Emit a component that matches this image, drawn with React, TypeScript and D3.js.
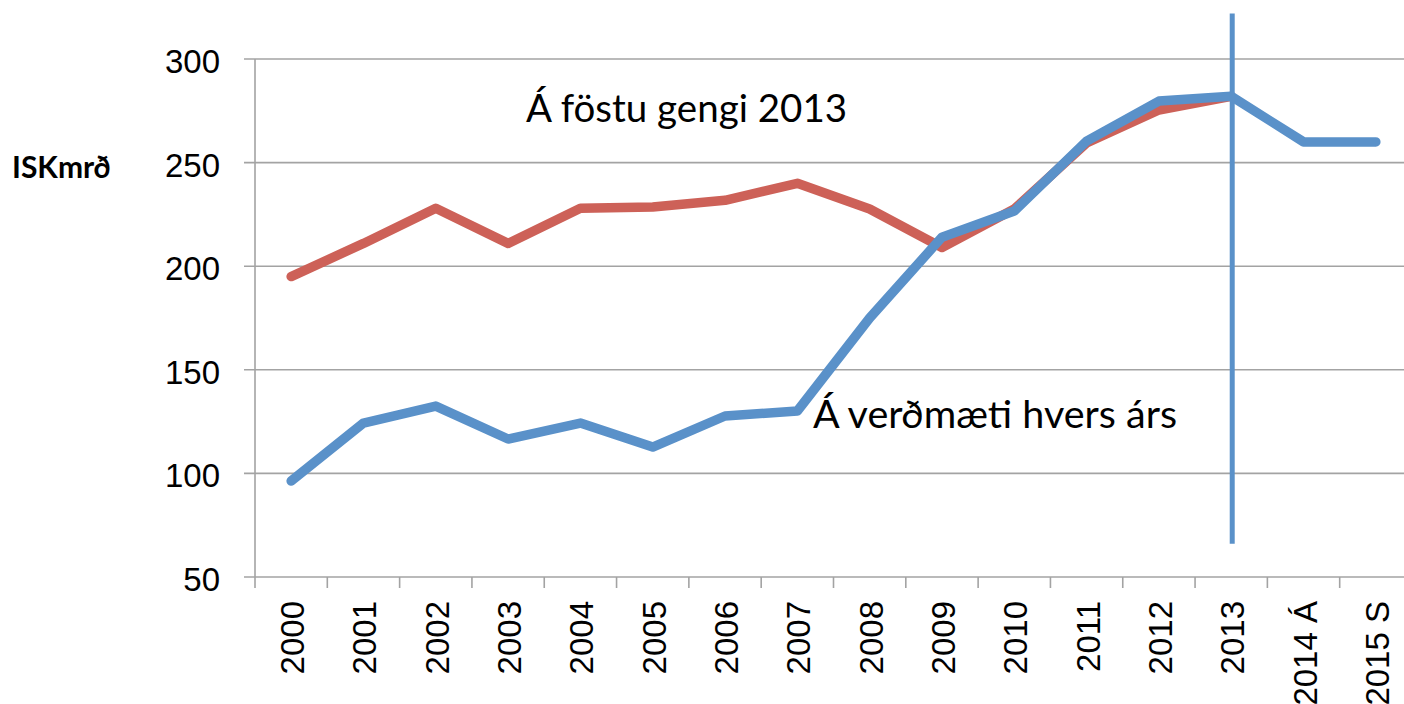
import React, { useRef, useEffect } from 'react';
import * as d3 from 'd3';

const years = ['2000', '2001', '2002', '2003', '2004', '2005', '2006', '2007', '2008', '2009', '2010', '2011', '2012', '2013', '2014 Á', '2015 S'];
// Á föstu gengi 2013 (constant 2013 prices)
const fixedPrices = [195, 211, 228, 211, 228, 228.6, 231.8, 240, 227.6, 209, 227.6, 259.5, 275.4, 282];
// Á verðmæti hvers árs (current prices)
const currentPrices = [96.3, 124.3, 132.5, 116.6, 124.3, 112.7, 127.7, 130.1, 175, 214, 226.6, 260.4, 279.7, 282, 260, 260];
const yTicks = [50, 100, 150, 200, 250, 300];
const markerYear = '2013';
const markerRange = [322, 66];

const W = 1404;
const H = 704;

export default function App() {
    const svgRef = useRef<SVGSVGElement>(null);

    useEffect(() => {
        if (!svgRef.current) return;
        const svg = d3.select(svgRef.current);
        svg.selectAll("*").remove();

        const x = d3.scaleBand().domain(years).range([255, 1412]);
        const y = d3.scaleLinear().domain([50, 300]).range([577, 59]);
        const cx = (d: string) => (x(d) ?? 0) + x.bandwidth() / 2;
        const axisFont = "Liberation Sans, Arial, sans-serif";

        // gridlines
        svg.append("g")
            .selectAll("line")
            .data(yTicks)
            .join("line")
            .attr("x1", 244)
            .attr("x2", W)
            .attr("y1", d => y(d))
            .attr("y2", d => y(d))
            .attr("stroke", "#a3a3a3")
            .attr("stroke-width", 1.6);

        // y axis line
        svg.append("line")
            .attr("x1", 255).attr("x2", 255)
            .attr("y1", y(300)).attr("y2", y(50) + 11)
            .attr("stroke", "#a3a3a3").attr("stroke-width", 1.6);

        // x ticks
        svg.append("g")
            .selectAll("line")
            .data(years.slice(1))
            .join("line")
            .attr("x1", d => x(d) ?? 0)
            .attr("x2", d => x(d) ?? 0)
            .attr("y1", y(50))
            .attr("y2", y(50) + 11)
            .attr("stroke", "#a3a3a3")
            .attr("stroke-width", 1.6);

        // y labels
        svg.append("g")
            .selectAll("text")
            .data(yTicks)
            .join("text")
            .attr("x", 220)
            .attr("y", d => y(d) + 14)
            .attr("text-anchor", "end")
            .attr("font-family", axisFont)
            .attr("font-size", 33)
            .attr("fill", "#000")
            .text(d => d);

        // x labels (rotated)
        svg.append("g")
            .selectAll("text")
            .data(years)
            .join("text")
            .attr("transform", d => `translate(${cx(d) + 13},601) rotate(-90)`)
            .attr("text-anchor", "end")
            .attr("font-family", axisFont)
            .attr("font-size", 33)
            .attr("fill", "#000")
            .text(d => d);

        const line = d3.line<number>()
            .x((d, i) => cx(years[i]))
            .y(d => y(d));

        svg.append("path")
            .datum(fixedPrices)
            .attr("d", line)
            .attr("fill", "none")
            .attr("stroke", "#cd6158")
            .attr("stroke-width", 9.5)
            .attr("stroke-linejoin", "round")
            .attr("stroke-linecap", "round");

        svg.append("path")
            .datum(currentPrices)
            .attr("d", line)
            .attr("fill", "none")
            .attr("stroke", "#5a91c9")
            .attr("stroke-width", 9.5)
            .attr("stroke-linejoin", "round")
            .attr("stroke-linecap", "round");

        // vertical marker at 2013
        svg.append("line")
            .attr("x1", cx(markerYear) + 1)
            .attr("x2", cx(markerYear) + 1)
            .attr("y1", y(markerRange[0]))
            .attr("y2", y(markerRange[1]))
            .attr("stroke", "#5a91c9")
            .attr("stroke-width", 5);

        const font = "Lato, 'Open Sans', sans-serif";
        svg.append("text")
            .attr("x", 526).attr("y", 122)
            .attr("font-family", font).attr("font-size", 38.5)
            .text("Á föstu gengi 2013");
        svg.append("text")
            .attr("x", 813).attr("y", 428)
            .attr("font-family", font).attr("font-size", 39.5)
            .text("Á verðmæti hvers árs");
        svg.append("text")
            .attr("x", 12).attr("y", 178)
            .attr("font-family", font).attr("font-size", 30)
            .attr("font-weight", "bold")
            .text("ISKmrð");
    }, []);

    return (
        <svg ref={svgRef} width={W} height={H} viewBox={`0 0 ${W} ${H}`}
            style={{ position: 'absolute', left: 0, top: 0, background: '#fff' }} />
    );
}
